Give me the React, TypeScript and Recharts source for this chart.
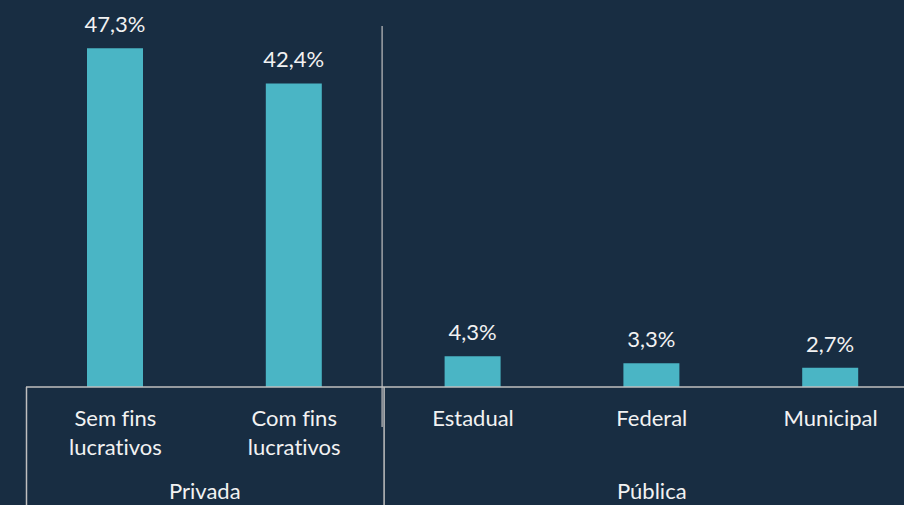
import { BarChart, Bar, XAxis, YAxis, LabelList } from 'recharts';

const categories = ['Sem fins\nlucrativos', 'Com fins\nlucrativos', 'Estadual', 'Federal', 'Municipal'];
const groups = ['Privada', 'Privada', 'Pública', 'Pública', 'Pública'];
const shares = [47.3, 42.4, 4.3, 3.3, 2.7];

const BG = '#182d42';
const BAR = '#4ab5c5';
const TEXT = '#f2f2f2';
const LINE = '#bfbfbf';
const FONT = 'Lato, "Open Sans", sans-serif';

const CHART_W = 920;
const CHART_H = 505;
const XAXIS_H = 30;
const MARGIN = { top: 29, right: 0, bottom: 88, left: 26 };
const AXIS_Y = CHART_H - MARGIN.bottom - XAXIS_H;
const BAND = (CHART_W - MARGIN.left - MARGIN.right) / categories.length;

const data = categories.map((c, i) => ({ name: c, group: groups[i], value: shares[i] }));

const fmtPct = (v: any) => `${Number(v).toFixed(1).replace('.', ',')}%`;
const textStyle = { fontVariantLigatures: 'none' as const };

function CategoryTick({ x, payload, index }: any) {
  const lines = String(payload.value).split('\n');
  const g = groups[index];
  const isGroupStart = index === 0 || groups[index - 1] !== g;
  let span = 0;
  while (index + span + 1 < groups.length && groups[index + span + 1] === g) span++;
  const left = x - BAND / 2;
  return (
    <g>
      {lines.map((l, i) => (
        <text key={i} x={x} y={AXIS_Y + 39 + i * 29} textAnchor="middle"
          fill={TEXT} fontSize={22} fontFamily={FONT} style={textStyle}>{l}</text>
      ))}
      {isGroupStart && (
        <>
          <text x={x + (span * BAND) / 2} y={AXIS_Y + 112} textAnchor="middle"
            fill={TEXT} fontSize={22} fontFamily={FONT} style={textStyle}>{g}</text>
          <line x1={left + 0.5} x2={left + 0.5} y1={AXIS_Y} y2={CHART_H} stroke={LINE} strokeWidth={1.5} />
          {index > 0 && (
            <line x1={left - 1.5} x2={left - 1.5} y1={26} y2={AXIS_Y + 40} stroke={LINE} strokeWidth={1.2} />
          )}
        </>
      )}
    </g>
  );
}

export default function App() {
  return (
    <div style={{ position: 'absolute', left: 0, top: 0, width: 904, height: 505, overflow: 'hidden', background: BG }}>
      <BarChart width={CHART_W} height={CHART_H} data={data} margin={MARGIN} barSize={56}>
        <XAxis dataKey="name" interval={0} tickLine={false} height={XAXIS_H}
          axisLine={{ stroke: LINE, strokeWidth: 1.5 }} tick={<CategoryTick />} />
        <YAxis hide domain={[0, 50]} />
        <Bar dataKey="value" fill={BAR} isAnimationActive={false}>
          <LabelList dataKey="value" position="top" offset={16} formatter={fmtPct}
            fill={TEXT} fontSize={22} fontFamily={FONT} style={textStyle} />
        </Bar>
      </BarChart>
    </div>
  );
}
